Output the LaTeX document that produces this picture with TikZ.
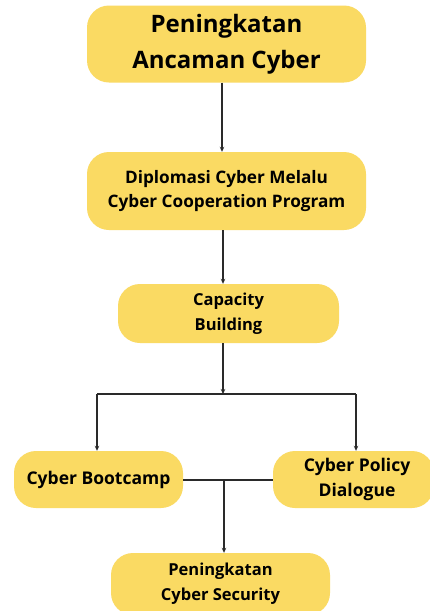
\documentclass[tikz,border=0pt]{standalone}
\usepackage{fontspec}
\setmainfont{Open Sans}
\usetikzlibrary{arrows.meta,calc}
\definecolor{boxyellow}{HTML}{FADA63}
\definecolor{linegray}{HTML}{2A2A2A}
\tikzset{
  box/.style={fill=boxyellow, draw=none, rounded corners=22pt, align=center,
    inner sep=0pt, font=\bfseries, text=black},
  conn/.style={draw=linegray, line width=1.1pt},
  arr/.style={conn, -{Stealth[length=5pt,width=4.5pt]}},
}
\begin{document}
\begin{tikzpicture}[x=1pt,y=-1pt]
\useasboundingbox[fill=white] (0,0) rectangle (430,611);
\node[box, minimum width=279pt, minimum height=77pt, font=\fontsize{24}{36}\selectfont\bfseries] (b1) at (226.5,44) {Peningkatan\\Ancaman Cyber};
\node[box, minimum width=279pt, minimum height=78pt, font=\fontsize{17.2}{24}\selectfont\bfseries] (b2) at (226.5,191) {Diplomasi Cyber Melalu\\Cyber Cooperation Program};
\node[box, minimum width=221pt, minimum height=59pt, font=\fontsize{16.5}{25}\selectfont\bfseries] (b3) at (228.5,313.5) {Capacity\\Building};
\node[box, minimum width=169pt, minimum height=57pt, font=\fontsize{17.5}{24}\selectfont\bfseries] (b4) at (98.5,479.5) {Cyber Bootcamp};
\node[box, minimum width=161pt, minimum height=57pt] (b5) at (353.5,479.5) {};
\node[font=\fontsize{17.5}{25}\selectfont\bfseries, align=center, inner sep=0pt] (t5) at (357,479.5) {Cyber Policy\\Dialogue};
\node[box, minimum width=219pt, minimum height=62pt, font=\fontsize{16.5}{25}\selectfont\bfseries] (b6) at (220.5,584) {Peningkatan\\Cyber Security};
\coordinate (xa) at (222,0);
\coordinate (xb) at (223,0);
\coordinate (split) at (223,394);
\coordinate (left) at (97,394);
\coordinate (right) at (356,394);
\coordinate (join) at (224,480);
\draw[arr] (b1.south -| xa) -- (b2.north -| xa);
\draw[arr] (b2.south -| xb) -- (b3.north -| xb);
\draw[arr] (b3.south -| split) -- (split);
\draw[conn] (left) -- (right);
\draw[arr] (left) -- (b4.north -| left);
\draw[arr] (right) -- (b5.north -| right);
\draw[conn] (b4.east |- join) -- (b5.west |- join);
\draw[arr] (join) -- (b6.north -| join);
\end{tikzpicture}
\end{document}
